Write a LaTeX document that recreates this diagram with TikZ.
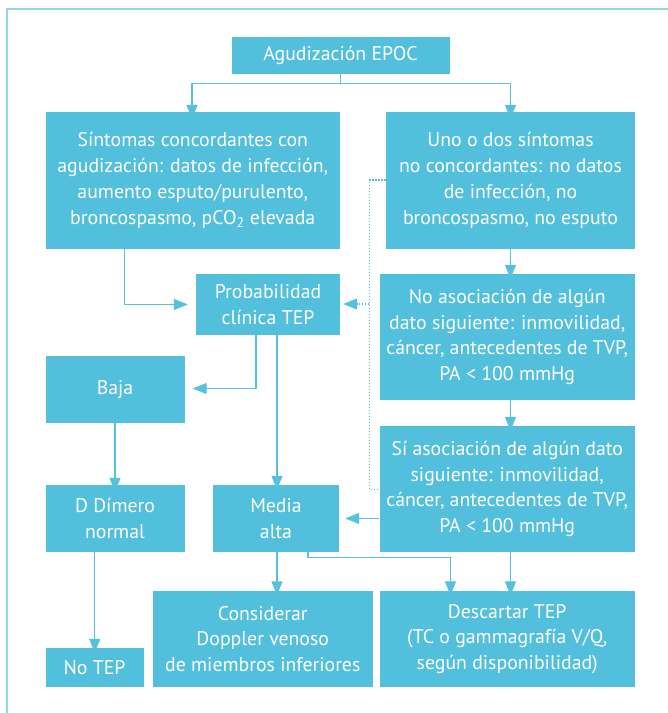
\documentclass[tikz,border=0pt]{standalone}
\usepackage{fontspec}
\setmainfont{PT Sans}
\usetikzlibrary{arrows.meta}
\definecolor{boxc}{RGB}{82,192,221}
\definecolor{linec}{RGB}{85,193,222}
\definecolor{framec}{RGB}{150,214,234}
\begin{document}
\begin{tikzpicture}[x=1pt,y=-1pt,
  box/.style={fill=boxc, draw=none, text=white, inner sep=0pt, align=center,
    font=\fontsize{19.8}{25.8}\selectfont},
  conn/.style={draw=linec, line width=1.1pt, -{Triangle[length=14pt,width=11pt]}},
  dotconn/.style={draw=linec, line width=1.4pt, dash pattern=on 1.4pt off 1.6pt},
  dotarrow/.style={dotconn, -{Triangle[length=14pt,width=11pt,fill=linec]}},
  plain/.style={draw=linec, line width=1.1pt}]
\useasboundingbox (0,0) rectangle (668,713);
% frame
\draw[framec, line width=1.3pt] (7,713) -- (7,9) -- (668,9);
% boxes
\node[box, minimum width=218pt, minimum height=37pt] (epoc) at (340.5,55.5) {Agudización EPOC};
\node[box, minimum width=294.5pt, minimum height=137pt] (sint) at (192.75,180.5)
  {Síntomas concordantes con\\agudización: datos de infección,\\aumento esputo/purulento,\\broncospasmo, pCO\textsubscript{2} elevada};
\node[box, minimum width=249pt, minimum height=137pt] (uno) at (510.5,180.5)
  {Uno o dos síntomas\\no concordantes: no datos\\de infección, no\\broncospasmo, no esputo};
\node[box, minimum width=144pt, minimum height=61pt] (prob) at (268,304.5)
  {Probabilidad\\clínica TEP};
\node[box, minimum width=255.5pt, minimum height=126pt] (noas) at (507.25,337)
  {No asociación de algún\\dato siguiente: inmovilidad,\\cáncer, antecedentes de TVP,\\PA < 100 mmHg};
\node[box, minimum width=139pt, minimum height=67pt] (baja) at (115,389.5) {Baja};
\node[box, minimum width=255.5pt, minimum height=126pt] (si) at (507.25,489)
  {Sí asociación de algún dato\\siguiente: inmovilidad,\\cáncer, antecedentes de TVP,\\PA < 100 mmHg};
\node[box, minimum width=139pt, minimum height=67pt] (ddim) at (115,518.5) {D Dímero\\normal};
\node[box, minimum width=126pt, minimum height=67pt] (media) at (276,518.5) {Media\\alta};
\node[box, minimum width=220.5pt, minimum height=96pt] (cons) at (262.75,639)
  {Considerar\\Doppler venoso\\de miembros inferiores};
\node[box, minimum width=255.5pt, minimum height=96pt] (desc) at (507.25,639)
  {Descartar TEP\\(TC o gammagrafía V/Q,\\según disponibilidad)};
\node[box, minimum width=98pt, minimum height=39pt] (notep) at (94.5,667.5) {No TEP};
% connectors
\coordinate (split) at (epoc.south |- 0,83.5);
\draw[plain] (epoc.south) -- (split);
\draw[conn] (split) -| ([yshift=-7pt]sint.north -| 192,0);
\draw[conn] (split) -| ([yshift=-7pt]uno.north);
\draw[conn] (sint.south -| 124.5,0) |- ([xshift=-8pt]prob.west);
\draw[conn] (uno.south) -- ([yshift=-5pt]noas.north -| uno.south);
\draw[conn] (noas.south -| uno.south) -- ([yshift=-5pt]si.north -| uno.south);
\draw[conn] (prob.south -| 256,0) |- ([xshift=8pt]baja.east |- 0,388.5);
\draw[conn] (prob.south -| 277,0) -- ([yshift=-5pt]media.north -| 277,0);
\draw[conn] (baja.south) -- ([yshift=-7pt]ddim.north);
\draw[conn] (si.west |- 0,518.5) -- ([xshift=6pt]media.east);
\draw[conn] (ddim.south -| 94.7,0) -- ([yshift=-5pt]notep.north -| 94.7,0);
\draw[conn] (media.south -| 277,0) -- ([yshift=-4.5pt]cons.north -| 277,0);
\draw[conn] (media.south -| 308,0) |- (450.5,557.5) -- ([yshift=-4.5pt]desc.north -| 450.5,0);
\draw[conn] (si.south -| uno.south) -- ([yshift=-4.5pt]desc.north -| uno.south);
% dotted connectors
\coordinate (dtop) at (369.3,180);
\coordinate (dbot) at (369.3,489.3);
\coordinate (dmid) at (369.3,304);
\draw[dotconn] (uno.west |- dtop) -- (dtop) -- (dbot) -- (si.west |- dbot);
\draw[dotarrow] (dmid) -- ([xshift=3pt]prob.east |- dmid);
\end{tikzpicture}
\end{document}
